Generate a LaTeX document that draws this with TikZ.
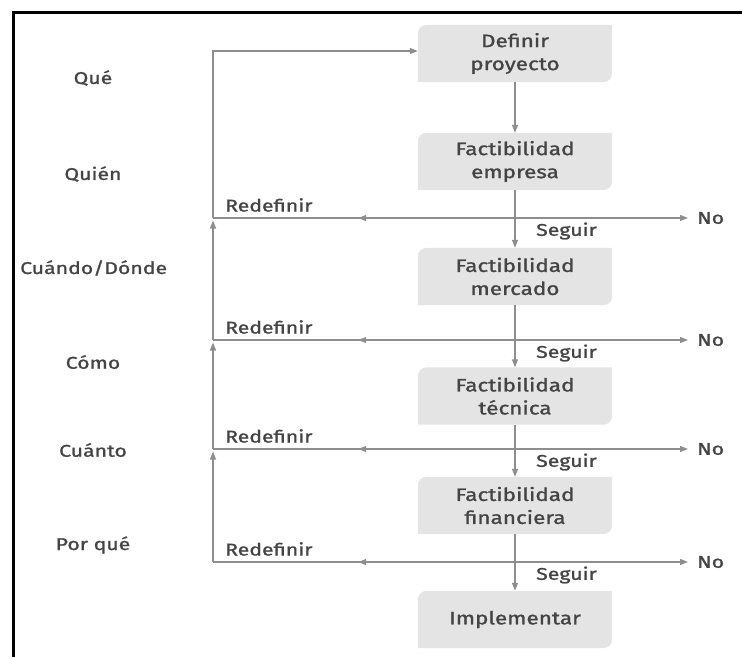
\documentclass[tikz,border=0pt]{standalone}
\usepackage{fontspec}
\setmainfont{Fira Sans}[FakeStretch=1.25, FakeBold=1.3]
\usetikzlibrary{arrows.meta,decorations.markings,backgrounds}
\definecolor{txt}{HTML}{444444}
\definecolor{ln}{HTML}{8E8E8E}
\definecolor{boxfill}{HTML}{E4E4E4}
\begin{document}
\begin{tikzpicture}[x=1pt,y=-1pt,
  tipend/.style={-{Triangle[length=8pt,width=6pt]}},
  conn/.style={draw=ln, line width=1.3pt, tipend},
  hline/.style={draw=ln, line width=1.3pt, tipend, shorten >=9pt,
    postaction={decorate}, decoration={markings,
      mark=at position 0.30 with {\arrowreversed[fill=ln,draw=ln]{Triangle[length=8pt,width=6pt]}}}},
  stepbox/.style={minimum width=194pt, minimum height=57pt, align=center, inner sep=0pt,
    text=txt, font=\fontsize{18}{23}\selectfont},
  lbl/.style={text=txt, font=\fontsize{17}{20}\selectfont, inner sep=0pt},
  shapebg/.style={fill=boxfill}
]
\useasboundingbox (0,0) rectangle (742,657);
% frame
\draw[line width=3.5pt] (742,12.5) -- (13.5,12.5) -- (13.5,657);

% boxes
\node[stepbox] (b1) at (515,53.5) {Definir\\proyecto};
\node[stepbox] (b2) at (515,161.5) {Factibilidad\\empresa};
\node[stepbox] (b3) at (515,276.5) {Factibilidad\\mercado};
\node[stepbox] (b4) at (515,396) {Factibilidad\\técnica};
\node[stepbox] (b5) at (515,505.5) {Factibilidad\\financiera};
\node[stepbox] (b6) at (515,619.5) {Implementar};

\begin{scope}[on background layer]
\foreach \b in {b1,b2,b3,b4,b5,b6}{
  \fill[shapebg] (\b.west) [rounded corners=9pt] -- (\b.north west) -- (\b.north) [sharp corners] -- (\b.north east) -- (\b.east) [rounded corners=9pt] -- (\b.south east) -- (\b.south) [sharp corners] -- (\b.south west) -- cycle;
}
\end{scope}

% left labels
\node[lbl] (q1) at (93,78) {Qué};
\node[lbl] (q2) at (93,174) {Quién};
\node[lbl, anchor=west] (q3) at (20,268) {Cuándo/Dónde};
\node[lbl] (q4) at (93,362) {Cómo};
\node[lbl] (q5) at (93,450) {Cuánto};
\node[lbl] (q6) at (93,545) {Por qué};

% junctions
\coordinate (t) at (213,51);
\coordinate (j1) at (213,218);
\coordinate (j2) at (213,340);
\coordinate (j3) at (213,449);
\coordinate (j4) at (213,562);

% No nodes
\node[lbl, anchor=west] (n1) at (697,218) {No};
\node[lbl, anchor=west] (n2) at (697,340) {No};
\node[lbl, anchor=west] (n3) at (697,449) {No};
\node[lbl, anchor=west] (n4) at (697,562) {No};

% Redefinir labels
\node[lbl, anchor=west] (r1) at (225,205) {Redefinir};
\node[lbl, anchor=west] (r2) at (225,327) {Redefinir};
\node[lbl, anchor=west] (r3) at (225,436) {Redefinir};
\node[lbl, anchor=west] (r4) at (225,549) {Redefinir};

% Seguir labels
\node[lbl, anchor=west] (s1) at (536,231) {Seguir};
\node[lbl, anchor=west] (s2) at (536,353) {Seguir};
\node[lbl, anchor=west] (s3) at (536,462) {Seguir};
\node[lbl, anchor=west] (s4) at (536,575) {Seguir};

% horizontal decision lines
\draw[hline] (j1) -- (n1.west);
\draw[hline] (j2) -- (n2.west);
\draw[hline] (j3) -- (n3.west);
\draw[hline] (j4) -- (n4.west);

% feedback vertical line
\draw[conn, shorten >=2.5pt] (j4) -- (j3);
\draw[conn, shorten >=2.5pt] (j3) -- (j2);
\draw[conn, shorten >=2.5pt] (j2) -- (j1);
\draw[conn] (j1) -- (t) -- (t -| b1.west);

% main flow
\draw[conn] (b1) -- (b2);
\draw[conn] (b2) -- (b3);
\draw[conn] (b3) -- (b4);
\draw[conn] (b4) -- (b5);
\draw[conn] (b5) -- (b6);
\end{tikzpicture}
\end{document}
